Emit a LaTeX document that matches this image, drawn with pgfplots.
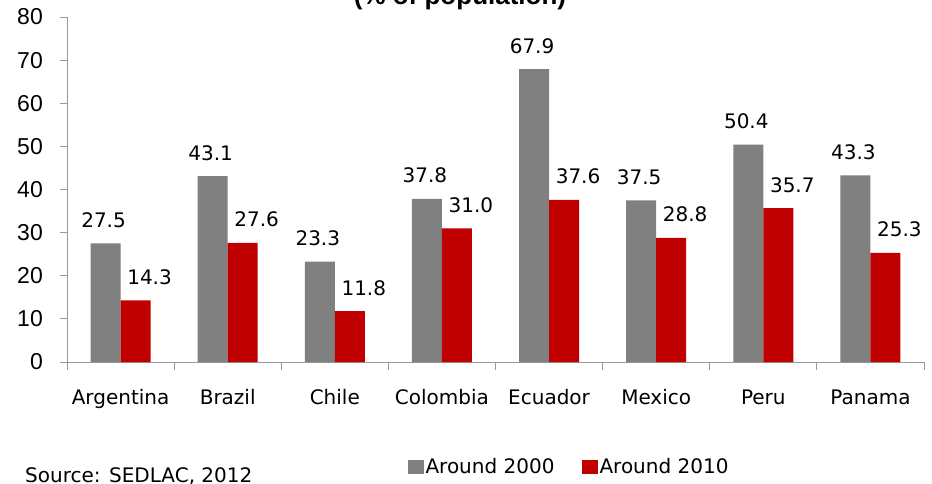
\documentclass[border=0pt]{standalone}
\usepackage{pgfplots}
\pgfplotsset{compat=1.18}
\usepackage{fontspec}
\setmainfont{DejaVu Sans}
\newfontfamily\arialfont{Liberation Sans}
\definecolor{barGray}{HTML}{808080}
\definecolor{barRed}{HTML}{C00000}
\definecolor{axisGray}{HTML}{999999}

\begin{document}
\begin{tikzpicture}[x=1pt,y=1pt]
\useasboundingbox (0,0) rectangle (932,483);
\begin{axis}[
  at={(67pt,121pt)}, anchor=south west,
  scale only axis, width=857pt, height=345pt,
  ybar=0pt, bar width=30pt,
  xmin=-0.5, xmax=7.5, ymin=0, ymax=80,
  ytick={0,10,...,80},
  xtick={0,...,7},
  xticklabels={Argentina,Brazil,Chile,Colombia,Ecuador,Mexico,Peru,Panama},
  minor xtick={-0.5,0.5,...,7.5},
  axis x line*=bottom, axis y line*=left,
  axis line style={draw=axisGray, line width=1pt, -},
  tick align=outside,
  major tick length=7pt, minor tick length=8pt,
  tick style={axisGray, line width=1pt},
  major x tick style={draw=none},
  /pgf/number format/assume math mode=true,
  yticklabel style={font=\arialfont\fontsize{23}{26}\selectfont, inner sep=0pt, xshift=-17pt},
  xticklabel style={font=\fontsize{20}{24}\selectfont, anchor=base, inner sep=0pt, yshift=-35pt},
  nodes near coords={\pgfmathprintnumber[fixed,fixed zerofill,precision=1]{\pgfplotspointmeta}},
  every node near coord/.append style={font=\fontsize{20}{24}\selectfont, anchor=base, inner sep=0pt, yshift=16pt, black},
  legend style={at={(0.5858,-0.3043)}, anchor=center, draw=none, fill=none,
    font=\fontsize{20}{24}\selectfont, legend columns=2,
    /tikz/every even column/.append style={column sep=26pt},
    inner sep=0pt, nodes={inner xsep=1.5pt, inner ysep=0pt}},
  legend image code/.code={\fill[#1] (-2pt,-7pt) rectangle (14pt,7pt);},
]
% poverty headcount, around 2000
\addplot[fill=barGray, draw=none, every node near coord/.append style={xshift=-2pt}]
  coordinates {(0,27.5) (1,43.1) (2,23.3) (3,37.8) (4,67.9) (5,37.5) (6,50.4) (7,43.3)};
% poverty headcount, around 2010
\addplot[fill=barRed, draw=none, every node near coord/.append style={xshift=14pt}]
  coordinates {(0,14.3) (1,27.6) (2,11.8) (3,31.0) (4,37.6) (5,28.8) (6,35.7) (7,25.3)};
\legend{Around 2000, Around 2010}
\end{axis}
\node[font=\arialfont\bfseries\fontsize{26}{30}\selectfont, anchor=base, inner sep=0pt] at (460,478) {(\% of population)};
\node[anchor=base west, inner sep=0pt, font=\fontsize{20}{24}\selectfont] at (25,1) {Source: SEDLAC, 2012};
\end{tikzpicture}
\end{document}
